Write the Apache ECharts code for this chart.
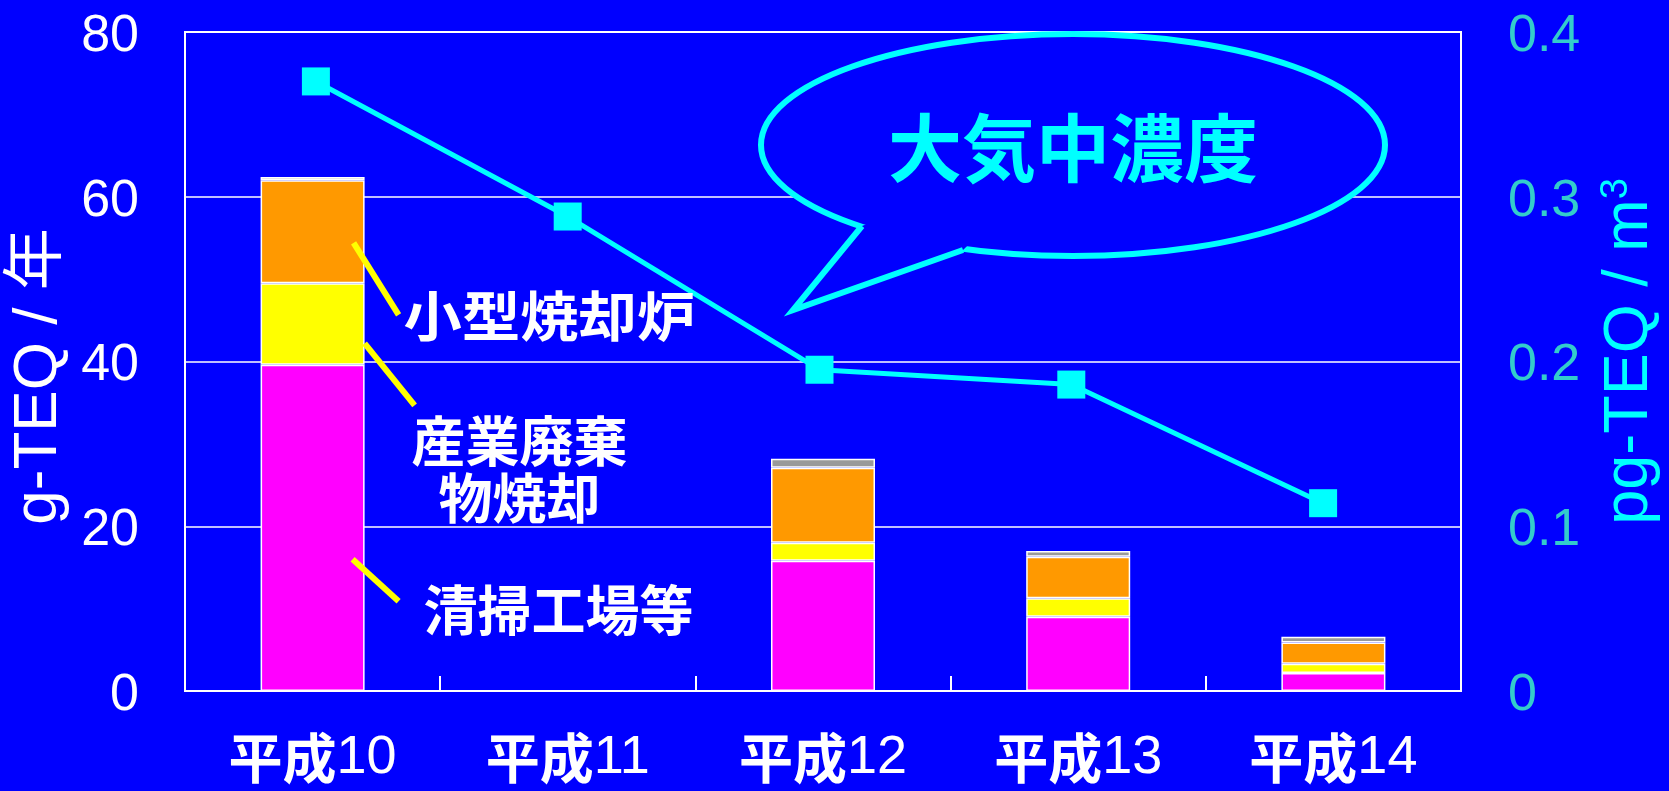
<!DOCTYPE html>
<html>
<head>
<meta charset="utf-8">
<script src="https://cdn.jsdelivr.net/npm/echarts@6/dist/echarts.min.js"></script>
<style>
  html, body { margin: 0; padding: 0; background: #0000ff; }
  #main { width: 1669px; height: 791px; }
</style>
</head>
<body>
<div id="main"></div>
<script>
// Fiscal years
const categories = ['平成10', '平成11', '平成12', '平成13', '平成14'];

// Dioxin emissions by source, g-TEQ / 年 (stacked bottom to top)
const seisou  = [39.6, '-', 15.8, 9.0, 2.2];   // 清掃工場等
const sangyou = [9.9,  '-', 2.2,  2.25, 1.1];  // 産業廃棄物焼却
const kogata  = [12.5, '-', 9.1,  5.05, 2.6];  // 小型焼却炉
const sonota  = [0.4,  '-', 1.1,  0.7,  0.7];  // その他

// Ambient air concentration, pg-TEQ / m3
const airConc = [0.37, 0.288, 0.195, 0.186, 0.114];

// Axis ranges
const leftAxis  = { min: 0, max: 80,  interval: 20 };
const rightAxis = { min: 0, max: 0.4, interval: 0.1 };

const CJK = '"Noto Sans CJK JP", sans-serif';
const LAT = '"Liberation Sans", Arial, "Noto Sans CJK JP", sans-serif';
const BLUE = '#0000ff';
const CYAN = '#00ffff';

const chart = echarts.init(document.getElementById('main'));

const segStyle = c => ({ color: c, borderColor: '#ffffff', borderWidth: 1.5 });
const tickLabel = color => ({
  formatter: v => '{t|' + v + '}',
  rich: { t: { color, fontFamily: LAT, fontSize: 52, padding: [9, 0, 0, 0] } }
});

const option = {
  backgroundColor: BLUE,
  animation: false,
  grid: [
    // emission bars
    { left: 185, right: 208, top: 32, bottom: 100,
      show: true, borderColor: '#ffffff', borderWidth: 2, backgroundColor: 'transparent' },
    // concentration line (right-hand scale)
    { left: 190, right: 203, top: 32, bottom: 100 }
  ],
  xAxis: [
    {
      type: 'category',
      gridIndex: 0,
      data: categories,
      axisLine: { lineStyle: { color: '#ffffff', width: 2 } },
      axisTick: { show: true, inside: true, length: 15, lineStyle: { color: '#ffffff', width: 2 } },
      axisLabel: {
        margin: 40,
        formatter: v => '{c|' + v.slice(0, 2) + '}{n|' + v.slice(2) + '}',
        rich: {
          c: { fontFamily: CJK, fontWeight: 'bold', fontSize: 54, color: '#ffffff' },
          n: { fontFamily: LAT, fontSize: 54, color: '#ffffff' }
        }
      }
    },
    { type: 'category', gridIndex: 1, data: categories, show: false }
  ],
  yAxis: [
    {
      type: 'value',
      gridIndex: 0,
      min: leftAxis.min, max: leftAxis.max, interval: leftAxis.interval,
      axisLine: { show: false },
      axisTick: { show: false },
      splitLine: { lineStyle: { color: '#ffffff', width: 1.5 } },
      axisLabel: Object.assign({ margin: 46 }, tickLabel('#ffffff')),
      name: 'g-TEQ / 年',
      nameLocation: 'middle',
      nameRotate: 90,
      nameGap: 110,
      nameTextStyle: { color: '#ffffff', fontFamily: LAT, fontSize: 62, padding: [0, 30, 0, 0] }
    },
    {
      type: 'value',
      gridIndex: 1,
      position: 'right',
      min: rightAxis.min, max: rightAxis.max, interval: rightAxis.interval,
      axisLine: { show: false },
      axisTick: { show: false },
      splitLine: { show: false },
      axisLabel: Object.assign({ margin: 59 }, tickLabel('#33cccc')),
      name: 'pg-TEQ / m{sup|3}',
      nameLocation: 'middle',
      nameRotate: 90,
      nameGap: 149,
      nameTextStyle: {
        color: CYAN, fontFamily: LAT, fontSize: 63, padding: [0, 0, 0, 20],
        rich: { sup: { color: CYAN, fontFamily: LAT, fontSize: 38, verticalAlign: 'top', padding: [0, 0, 24, 0] } }
      }
    }
  ],
  series: [
    { name: '清掃工場等', type: 'bar', stack: 'emission', barWidth: 104, data: seisou,  itemStyle: segStyle('#ff00ff') },
    { name: '産業廃棄物焼却', type: 'bar', stack: 'emission', barWidth: 104, data: sangyou, itemStyle: segStyle('#ffff00') },
    { name: '小型焼却炉', type: 'bar', stack: 'emission', barWidth: 104, data: kogata,  itemStyle: segStyle('#ff9900') },
    { name: 'その他', type: 'bar', stack: 'emission', barWidth: 104, data: sonota,  itemStyle: segStyle('#999999') },
    {
      name: '大気中濃度', type: 'line', xAxisIndex: 1, yAxisIndex: 1, data: airConc,
      symbol: 'rect', symbolSize: 28,
      lineStyle: { color: CYAN, width: 5 },
      itemStyle: { color: CYAN },
      z: 5
    }
  ]
};

chart.setOption(option);

// Leader lines and source labels, anchored to the first bar
const at = v => chart.convertToPixel({ seriesIndex: 0 }, [categories[0], v]);
const a1 = at(54.4), a2 = at(42.2), a3 = at(16.0);
const leader = (x1, y1, x2, y2) => ({
  type: 'line', z: 20,
  shape: { x1, y1, x2, y2 },
  style: { stroke: '#ffff00', lineWidth: 6 }
});
const label = (x, y, text, align, sx) => ({
  type: 'text', z: 20, x, y, scaleX: sx || 1,
  style: {
    text, fill: '#ffffff', font: 'bold 54px ' + CJK,
    align: align, verticalAlign: 'middle'
  }
});

// Speech balloon: ellipse plus a pointed tail
const balloon = { cx: 1073, cy: 145, rx: 312, ry: 111 };
const tailA = [862, 226], tailB = [963, 250], tailTip = [793, 310];
const inward = (p, d) => {
  const dx = balloon.cx - p[0], dy = balloon.cy - p[1];
  const len = Math.hypot(dx, dy);
  return [p[0] + dx / len * d, p[1] + dy / len * d];
};

chart.setOption({
  graphic: [
    leader(a1[0] + 41, a1[1], a1[0] + 86, a1[1] + 72),
    label(a1[0] + 91, a1[1] + 74, '小型焼却炉', 'left', 1.08),
    leader(a2[0] + 52, a2[1], a2[0] + 102, a2[1] + 62),
    label(a2[0] + 207, a2[1] + 98, '産業廃棄', 'center'),
    label(a2[0] + 207, a2[1] + 155, '物焼却', 'center'),
    leader(a3[0] + 40, a3[1], a3[0] + 86, a3[1] + 42),
    label(a3[0] + 111, a3[1] + 51, '清掃工場等', 'left'),
    {
      type: 'ellipse', z: 30,
      shape: balloon,
      style: { fill: BLUE, stroke: CYAN, lineWidth: 6 }
    },
    {
      type: 'polygon', z: 31,
      shape: { points: [inward(tailA, 9), tailA, tailTip, tailB, inward(tailB, 9)] },
      style: { fill: BLUE, stroke: null }
    },
    {
      type: 'polyline', z: 32,
      shape: { points: [tailA, tailTip, tailB] },
      style: { stroke: CYAN, lineWidth: 6, lineJoin: 'miter', fill: null }
    },
    {
      type: 'text', z: 33, x: 1073, y: 148,
      style: {
        text: '大気中濃度', fill: CYAN, font: 'bold 74px ' + CJK,
        align: 'center', verticalAlign: 'middle'
      }
    }
  ]
});
</script>
</body>
</html>
